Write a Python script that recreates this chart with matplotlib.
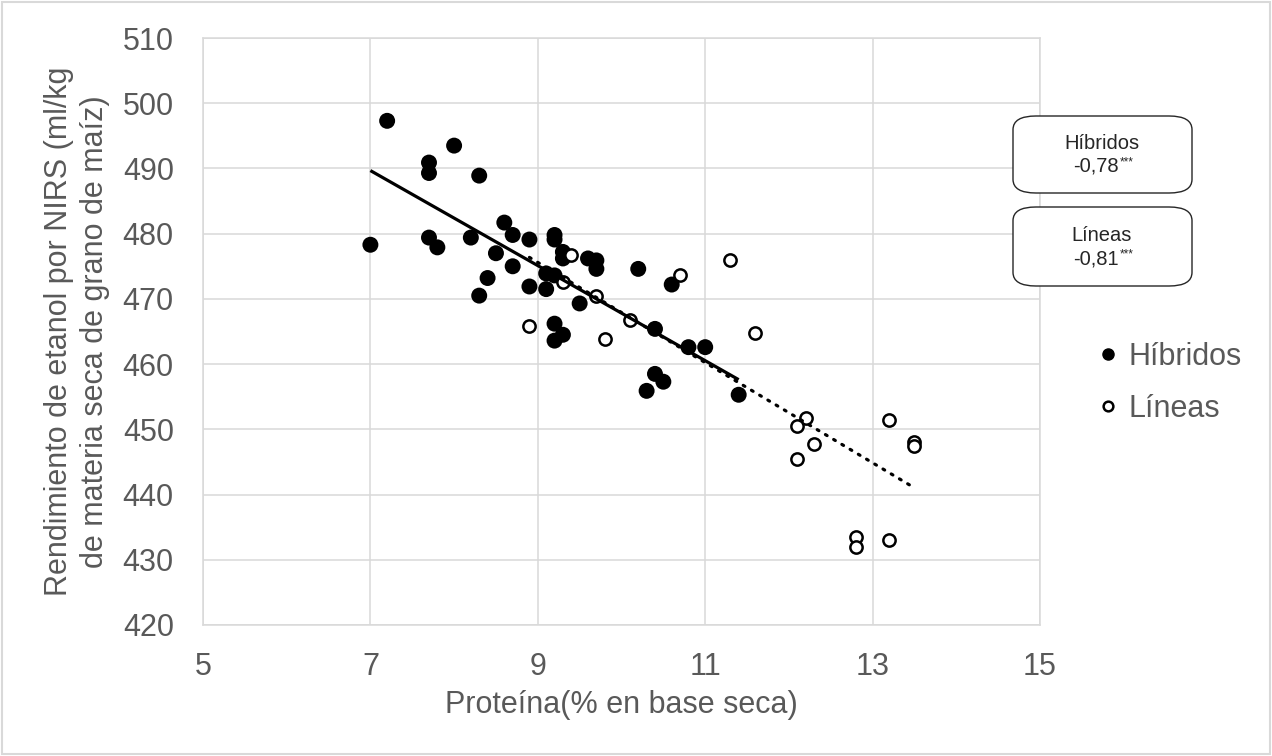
import numpy as np
import matplotlib
matplotlib.use("Agg")
import matplotlib.pyplot as plt
from matplotlib.patches import FancyBboxPatch, Rectangle
from matplotlib.lines import Line2D
from matplotlib.text import Annotation

# ---- data ----
hib_x = [7.2, 8.0, 7.7, 7.7, 8.3, 7.0, 7.7, 7.8, 8.2, 8.6, 8.7, 8.9, 8.5, 8.7, 8.4,
         8.3, 8.9, 9.1, 9.1, 9.2, 9.2, 9.2, 9.3, 9.3, 9.5, 9.2, 9.3, 9.2, 9.6, 9.7,
         9.7, 10.2, 10.6, 10.4, 10.8, 11.0, 10.4, 10.5, 10.3, 11.4]
hib_y = [497.3, 493.5, 490.9, 489.3, 488.9, 478.3, 479.4, 477.9, 479.4, 481.7, 479.8,
         479.1, 477.0, 475.0, 473.2, 470.5, 471.9, 471.5, 473.9, 473.6, 479.8, 479.1,
         477.2, 476.2, 469.3, 466.2, 464.5, 463.6, 476.2, 475.9, 474.6, 474.6, 472.2,
         465.4, 462.6, 462.6, 458.5, 457.3, 455.9, 455.3]

lin_x = [9.4, 9.3, 9.7, 10.1, 8.9, 9.8, 10.7, 11.3, 11.6, 12.2, 12.1, 12.3, 12.1,
         13.2, 13.5, 13.5, 12.8, 12.8, 13.2]
lin_y = [476.7, 472.6, 470.5, 466.8, 465.8, 463.8, 473.6, 475.9, 464.7, 451.8, 450.5,
         447.8, 445.4, 451.4, 448.1, 447.5, 433.5, 432.0, 433.0]

series_names = ["Híbridos", "Líneas"]
corr_labels = ["-0,78", "-0,81"]
signif = ["***", "***"]
x_ticks = [5, 7, 9, 11, 13, 15]
y_ticks = list(range(420, 511, 10))

plt.rcParams['font.family'] = ['Liberation Sans', 'DejaVu Sans']

W, H = 1272, 756
fig = plt.figure(figsize=(W / 100, H / 100), dpi=100)
ax = fig.add_axes([203 / W, 1 - 625 / H, (1040 - 203) / W, (625 - 38) / H])

grid_c = '#d9d9d9'
tick_c = '#595959'
txt_c = '#262626'

ax.set_xlim(5, 15)
ax.set_ylim(420, 510)
ax.set_xticks(x_ticks)
ax.set_yticks(y_ticks)
ax.grid(True, color=grid_c, linewidth=1.1)
ax.set_axisbelow(True)
for s in ax.spines.values():
    s.set_color(grid_c)
    s.set_linewidth(1.1)
ax.tick_params(length=0, labelsize=22, labelcolor=tick_c)
ax.tick_params(axis='y', pad=21)
ax.tick_params(axis='x', pad=19.5)

ax.scatter(hib_x, hib_y, s=132, color='black', edgecolors='none', zorder=3)
ax.scatter(lin_x, lin_y, s=78, facecolors='white', edgecolors='black',
           linewidths=1.8, zorder=4)

# trend lines (least squares over each series' x range)
hx = np.array([min(hib_x), max(hib_x)])
ph = np.polyfit(hib_x, hib_y, 1)
ax.plot(hx, np.polyval(ph, hx), color='black', linewidth=2.3, zorder=5,
        solid_capstyle='butt')
lx = np.array([min(lin_x), max(lin_x)])
pl = np.polyfit(lin_x, lin_y, 1)
ax.plot(lx, np.polyval(pl, lx), color='black', linewidth=2.3, zorder=5,
        linestyle=(0, (0.6, 2.4)), dash_capstyle='round')

ax.set_xlabel("Proteína(% en base seca)", fontsize=22, color=tick_c, labelpad=6)
ax.set_ylabel("Rendimiento de etanol por NIRS (ml/kg\nde materia seca de grano de maíz)",
              fontsize=22, color=tick_c, labelpad=9, linespacing=1.25)

# legend
handles = [Line2D([], [], marker='o', linestyle='none', markersize=8,
                  markerfacecolor='black', markeredgecolor='black'),
           Line2D([], [], marker='o', linestyle='none', markersize=7,
                  markerfacecolor='white', markeredgecolor='black', markeredgewidth=1.8)]
leg = fig.legend(handles, series_names, loc='center left',
                 bbox_to_anchor=(1099 / W, 1 - 383 / H), frameon=False,
                 fontsize=22, handlelength=0.6, handletextpad=0.35,
                 labelspacing=0.72, borderpad=0, borderaxespad=0)
for t in leg.get_texts():
    t.set_color(tick_c)

# correlation boxes
boxes = [(116, 193), (207, 286)]
for (top, bot), name, c, sig in zip(boxes, series_names, corr_labels, signif):
    x0, x1 = 1013, 1192
    p = FancyBboxPatch((x0 / W, 1 - bot / H), (x1 - x0) / W, (bot - top) / H,
                       boxstyle="round,pad=0,rounding_size=0.018",
                       transform=fig.transFigure, facecolor='white',
                       edgecolor=txt_c, linewidth=1.0, zorder=10)
    fig.patches.append(p)
    cy = (top + bot) / 2
    fig.text(1102 / W, 1 - (cy - 11) / H, name, ha='center', va='center',
             fontsize=14.5, color=txt_c, zorder=11)
    t = fig.text(1096 / W, 1 - (cy + 12) / H, c, ha='center', va='center',
                 fontsize=14.5, color=txt_c, zorder=11)
    a = Annotation(sig, xy=(1.0, 1.0), xycoords=t, xytext=(0.5, 0.5),
                   textcoords='offset points', fontsize=8.5, color=txt_c,
                   ha='left', va='top', annotation_clip=False)
    a.set_zorder(12)
    fig.add_artist(a)

# figure border
fig.patches.append(Rectangle((2 / W, 2 / H), 1 - 4 / W, 1 - 4 / H,
                             transform=fig.transFigure, fill=False,
                             edgecolor='#d9d9d9', linewidth=1.5))

fig.savefig("out.png", dpi=100)
